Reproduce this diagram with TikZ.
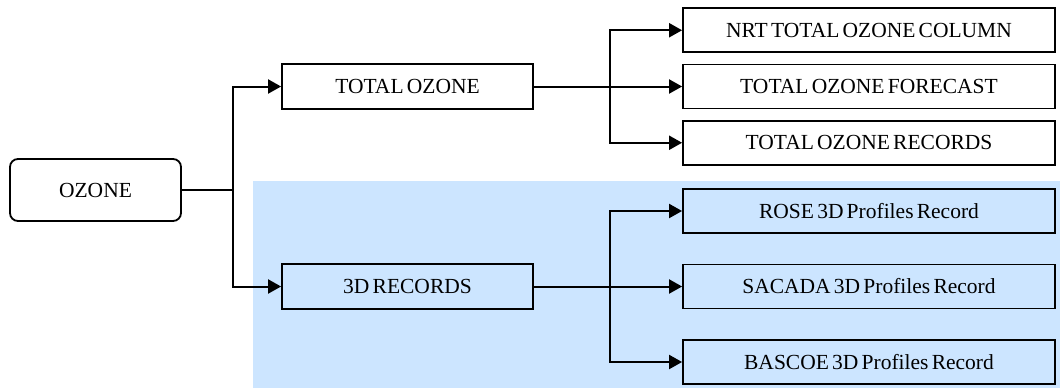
\documentclass[tikz,border=0pt]{standalone}
\usepackage{fontspec}
\setmainfont{Liberation Serif}[WordSpace=0.6]
\usetikzlibrary{arrows.meta}
\definecolor{recblue}{HTML}{CCE5FF}
\begin{document}
\begin{tikzpicture}[x=0.5pt,y=0.5pt,grow'=right,
        font=\fontsize{10.75}{13}\selectfont,
        every node/.style={draw,line width=0.9pt,inner sep=0pt,fill=white},
        recbox/.style={fill=recblue},
        edge from parent/.style={draw,line width=1pt,-{Triangle[length=6.5pt,width=7pt]}},
        level 1/.style={level distance=156pt,sibling distance=100pt,
                every node/.append style={minimum width=125.5pt,minimum height=22.5pt,yshift=1.75pt},
                edge from parent path={(\tikzparentnode.east) -- ++(25.5pt,0) |- (\tikzchildnode.west)}},
        level 2/.style={level distance=230.75pt,
                every node/.append style={minimum width=186pt,minimum height=22pt,yshift=-1.75pt},
                edge from parent path={(\tikzparentnode.east) -- ++(38pt,0) |- (\tikzchildnode.west)}}]
    \useasboundingbox (0,0) rectangle (1060,388);
    \fill[recblue] (253,0) rectangle (1060,207);
        \node[rounded corners=4pt,minimum width=85.5pt,minimum height=31pt] (ozone) at (95.5,198) {OZONE}
        child {node (total) {TOTAL OZONE} [sibling distance=28.125pt]
                child {node (nrt) {NRT TOTAL OZONE COLUMN}}
                child {node (forecast) {TOTAL OZONE FORECAST}}
                child {node (records) {TOTAL OZONE RECORDS}}}
        child {node[recbox] (threed) {3D RECORDS} [sibling distance=37.75pt]
                child {node[recbox] (rose) {ROSE 3D Profiles Record}}
                child {node[recbox] (sacada) {SACADA 3D Profiles Record}}
                child {node[recbox] (bascoe) {BASCOE 3D Profiles Record}}};
    \end{tikzpicture}
\end{document}
